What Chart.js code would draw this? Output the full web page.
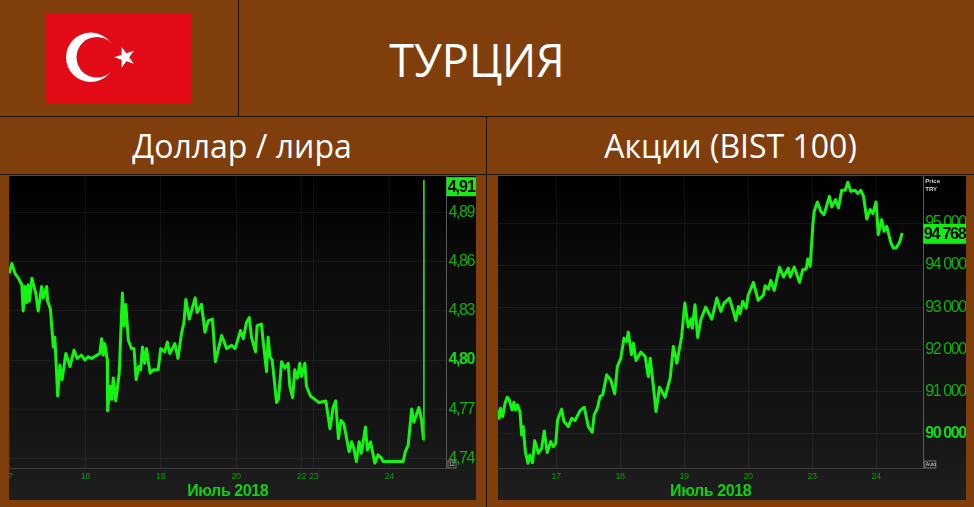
<!DOCTYPE html>
<html lang="ru">
<head>
<meta charset="utf-8">
<title>Турция</title>
<script src="https://cdn.jsdelivr.net/npm/chart.js@4"></script>
<style>
    html, body { margin: 0; padding: 0; }
    body { width: 974px; height: 507px; background: #813e0d; position: relative; overflow: hidden; font-family: "Open Sans", sans-serif; color: #fff; }
    .rule { position: absolute; background: #1c1208; }
    .title { position: absolute; text-align: center; white-space: nowrap; }
    .panel { position: absolute; top: 176px; height: 324px; background: linear-gradient(#000 0%, #0c0c0c 30%, #141414 75%, #1e1e1e 100%); }
    .panel canvas { display: block; }
    svg { position: absolute; left: 45px; top: 13px; }
</style>
</head>
<body>
<div class="rule" style="left:238px;top:0;width:1px;height:116px"></div>
<div class="rule" style="left:0;top:116px;width:974px;height:1px"></div>
<div class="rule" style="left:486px;top:116px;width:1px;height:391px"></div>
<div class="rule" style="left:0;top:174px;width:974px;height:1px"></div>

<svg width="147" height="91" viewBox="45 13 147 91">
    <rect x="45" y="13" width="147" height="91" fill="#e30a17"/>
    <circle cx="90.7" cy="57.3" r="24.7" fill="#fff"/>
    <circle cx="96.8" cy="57.3" r="20.3" fill="#e30a17"/>
    <polygon transform="translate(125 57.3)" fill="#fff" points="-11,0 -3.4,-2.47 -3.4,-10.46 1.3,-4 8.9,-6.47 4.2,0 8.9,6.47 1.3,4 -3.4,10.46 -3.4,2.47"/>
</svg>

<div class="title" style="left:239px;width:476px;top:30px;font-size:45px;line-height:60px">ТУРЦИЯ</div>
<div class="title" style="left:0;width:484px;top:123px;font-size:32px;line-height:46px">Доллар / лира</div>
<div class="title" style="left:487px;width:487px;top:123px;font-size:32px;line-height:46px">Акции (BIST 100)</div>

<div class="panel" style="left:9px;width:467px"><canvas id="lira" width="467" height="324"></canvas></div>
<div class="panel" style="left:498px;width:468px"><canvas id="bist" width="468" height="324"></canvas></div>

<script>
// --- Data, x in hours from the first labelled day ---
const liraHours = [-0.2, 0.6, 1.6, 2.7, 3.8, 4.2, 4.8, 5.3, 5.8, 6.2, 7.0, 8.3, 9.0, 10.1, 10.6, 11.7, 12.0, 12.9, 13.8, 14.3, 15.2, 15.9, 16.6, 17.8, 19.1, 20.4, 21.4, 22.8, 23.9, 24.9, 26.0, 28.6, 29.2, 29.7, 30.2, 31.0, 31.1, 31.8, 32.4, 32.9, 33.7, 34.8, 35.8, 36.3, 36.9, 37.7, 38.7, 39.5, 40.2, 41.0, 41.6, 42.2, 42.9, 43.5, 44.6, 45.6, 47.2, 48.0, 49.3, 50.1, 50.9, 52.5, 53.5, 54.6, 55.4, 56.0, 57.1, 58.1, 59.0, 59.6, 61.0, 62.1, 63.1, 64.5, 65.4, 66.3, 67.4, 69.0, 70.6, 71.7, 73.4, 74.3, 75.3, 76.2, 76.9, 78.2, 78.7, 80.1, 80.6, 81.7, 82.2, 82.8, 83.5, 84.9, 85.5, 86.5, 87.5, 88.6, 89.1, 90.0, 90.7, 91.5, 92.3, 92.8, 93.9, 94.4, 95.7, 98.4, 100.6, 101.9, 102.9, 103.7, 104.6, 105.4, 106.3, 108.0, 108.8, 109.5, 110.3, 111.2, 111.9, 113.2, 113.8, 114.8, 116.2, 117.2, 118.3, 118.8, 122.0, 125.2, 125.9, 126.8, 127.9, 128.6, 130.2, 131.0, 131.7, 131.8];
const liraValues = [4.853, 4.859, 4.853, 4.850, 4.846, 4.830, 4.845, 4.835, 4.846, 4.836, 4.850, 4.840, 4.830, 4.845, 4.838, 4.845, 4.836, 4.831, 4.808, 4.814, 4.778, 4.797, 4.788, 4.804, 4.796, 4.806, 4.801, 4.803, 4.800, 4.802, 4.801, 4.804, 4.813, 4.803, 4.810, 4.800, 4.769, 4.784, 4.776, 4.789, 4.775, 4.792, 4.841, 4.821, 4.834, 4.812, 4.807, 4.807, 4.788, 4.796, 4.794, 4.808, 4.798, 4.807, 4.792, 4.794, 4.794, 4.807, 4.805, 4.811, 4.804, 4.810, 4.801, 4.816, 4.823, 4.837, 4.825, 4.832, 4.838, 4.829, 4.834, 4.817, 4.824, 4.825, 4.799, 4.806, 4.815, 4.807, 4.809, 4.807, 4.818, 4.813, 4.823, 4.826, 4.814, 4.805, 4.821, 4.822, 4.812, 4.793, 4.814, 4.802, 4.800, 4.774, 4.776, 4.799, 4.795, 4.798, 4.784, 4.777, 4.794, 4.789, 4.798, 4.790, 4.798, 4.784, 4.778, 4.774, 4.775, 4.758, 4.771, 4.775, 4.752, 4.763, 4.761, 4.744, 4.750, 4.746, 4.738, 4.750, 4.743, 4.759, 4.745, 4.750, 4.737, 4.742, 4.740, 4.738, 4.738, 4.738, 4.744, 4.748, 4.770, 4.762, 4.771, 4.764, 4.751, 4.910];
const liraYTicks = [4.74, 4.77, 4.80, 4.83, 4.86, 4.89];
const liraXTicks = [0, 24, 48, 72, 92.8, 96.7, 120.8];
const liraXLabels = ['7', '18', '19', '20', '22', '23', '24'];

const bistHours = [-21.8, -21.3, -20.8, -20, -19.1, -18.3, -17.5, -16.5, -15.8, -15.2, -14.5, -13.5, -12.9, -12.3, -11.5, -10.5, -9.8, -8.8, -8, -6.6, -5.4, -4.4, -3.3, -2, -1, -0.1, 0.6, 2.1, 3, 4.6, 5.9, 7.1, 9, 10.6, 12.1, 13.6, 14.3, 15.5, 16.5, 17.5, 19, 20.5, 22, 23, 24.3, 25.5, 26.5, 27.1, 28.3, 29, 30, 31.8, 33.4, 34.6, 35.3, 36.5, 37.5, 38.8, 40.9, 42.8, 44, 45.3, 47.1, 48.3, 49.6, 50.6, 51.1, 52.1, 53.1, 54.3, 56.1, 58.4, 60.3, 61.8, 63, 65, 66.5, 67.4, 68.4, 69, 70, 71.3, 72.1, 74, 75.8, 77.8, 78.4, 79.6, 80.5, 81.8, 83.8, 85.3, 87.1, 87.8, 89.3, 91.3, 92.5, 93.8, 94.4, 95.3, 96.3, 96.8, 98, 99.3, 100.5, 102.5, 103.4, 104.8, 105.9, 107.1, 108.4, 109.4, 110.5, 112.1, 113.1, 114.3, 115.3, 116.5, 117.8, 118.8, 120, 120.8, 122.1, 123, 124, 125.5, 126.5, 127.5, 128.8, 129.8];
const bistValues = [90556, 90357, 90596, 90397, 90715, 90858, 90794, 90556, 90738, 90556, 90675, 90516, 89960, 90159, 89563, 89285, 89484, 89301, 89825, 89524, 89643, 90056, 89540, 89802, 89682, 89762, 90318, 90572, 90278, 90159, 90357, 90302, 90540, 90619, 90159, 90024, 90437, 90596, 90873, 90913, 91390, 91270, 90937, 91588, 91787, 92263, 92184, 92406, 91866, 92144, 91731, 91929, 91826, 91350, 91787, 91112, 90516, 91096, 90858, 91310, 92064, 91667, 92303, 93097, 92525, 92715, 92501, 93057, 92279, 92700, 93001, 92715, 93216, 92898, 93097, 93216, 92898, 92684, 93017, 92843, 93136, 92977, 93295, 93589, 93160, 93295, 93509, 93430, 93637, 93398, 93946, 93716, 93930, 93716, 93954, 93589, 93891, 93906, 94145, 93970, 94962, 95280, 95502, 95280, 95199, 95637, 95383, 95558, 95360, 95780, 95780, 95971, 95756, 95780, 95701, 95780, 95637, 95097, 95320, 95225, 95502, 94724, 95082, 94804, 94923, 94542, 94406, 94406, 94542, 94764];
const bistYTicks = [90000, 91000, 92000, 93000, 94000, 95000];
const bistXTicks = [0, 24, 48, 72, 96, 120];
const bistXLabels = ['17', '18', '19', '20', '23', '24'];

const axisTitle = 'Июль 2018';
const lineColor = '#14f514';
const tickColor = '#10b010';
const tickFont = '"Liberation Sans", sans-serif';

// Green price badge + small marks on the price axis.
// Labels in the original are a narrow face, so letter spacing is tightened per layer:
// x labels and title draw before the datasets, y labels (z: 1) after them.
const priceBadge = {
    id: 'priceBadge',
    beforeDraw(chart) {
        chart.ctx.letterSpacing = '-0.4px';
    },
    afterDatasetsDraw(chart) {
        chart.ctx.letterSpacing = '-1.4px';
    },
    afterDraw(chart, args, opts) {
        const c = chart.ctx, y = chart.scales.y, top = y.getPixelForValue(opts.value) - opts.height / 2 + opts.shift;
        c.save();
        c.fillStyle = '#12ee12';
        c.fillRect(y.left, top, y.width, opts.height);
        c.fillStyle = '#000';
        c.font = 'bold ' + opts.size + 'px ' + tickFont;
        c.letterSpacing = opts.spacing;
        c.textAlign = 'center';
        c.textBaseline = 'middle';
        c.fillText(opts.text, y.left + y.width / 2, top + opts.height / 2 + 1);

        c.letterSpacing = '0px';
        c.font = 'bold 6px ' + tickFont;
        c.textAlign = 'left';
        c.fillStyle = '#d8d8d8';
        (opts.notes || []).forEach((n, i) => c.fillText(n, y.left + 2, 5 + i * 8));
        c.strokeStyle = '#777';
        c.strokeRect(y.left + 1.5, chart.chartArea.bottom - 7, opts.boxWidth, 7);
        c.font = '5px ' + tickFont;
        c.fillText(opts.box, y.left + 2.5, chart.chartArea.bottom - 3.2);
        c.restore();
    }
};

function isBold(ctx, cfg) {
    return ctx.tick && ctx.tick.value === cfg.boldTick;
}

function makeChart(id, hours, values, yTicks, xTicks, xLabels, cfg) {
    return new Chart(document.getElementById(id).getContext('2d'), {
        type: 'line',
        data: {
            datasets: [{
                data: hours.map((h, i) => ({ x: h, y: values[i] })),
                borderColor: lineColor,
                borderWidth: 3,
                pointRadius: 0,
                tension: 0,
                borderJoinStyle: 'round',
                segment: {
                    // the last jump on the lira chart is a thin stroke
                    borderWidth: ctx => (Math.abs(ctx.p1.parsed.y - ctx.p0.parsed.y) > 0.1 && ctx.p1.parsed.y < 10 ? 1.8 : 3),
                    borderColor: ctx => (Math.abs(ctx.p1.parsed.y - ctx.p0.parsed.y) > 0.1 && ctx.p1.parsed.y < 10 ? '#1fd01f' : lineColor)
                }
            }]
        },
        options: {
            responsive: false,
            animation: false,
            events: [],
            layout: { padding: 0 },
            plugins: {
                legend: { display: false },
                tooltip: { enabled: false },
                priceBadge: cfg.badge
            },
            scales: {
                x: {
                    type: 'linear',
                    min: cfg.xMin,
                    max: cfg.xMax,
                    afterBuildTicks: axis => { axis.ticks = xTicks.map(v => ({ value: v })); },
                    afterFit: axis => {
                        axis.height = 32;
                        axis.paddingLeft = 0;
                        axis.paddingRight = 0;
                    },
                    border: { color: '#3c3c3c' },
                    grid: { color: 'rgba(255,255,255,0.055)', drawTicks: false },
                    ticks: {
                        autoSkip: false,
                        maxRotation: 0,
                        padding: 3,
                        color: '#0f9a0f',
                        font: { family: tickFont, size: 9 },
                        callback: (v, i) => xLabels[i]
                    },
                    title: {
                        display: true,
                        text: axisTitle,
                        color: '#10d010',
                        font: { family: tickFont, size: 16, weight: 'bold' },
                        padding: { top: 0, bottom: -1 }
                    }
                },
                y: {
                    position: 'right',
                    min: cfg.yMin,
                    max: cfg.yMax,
                    afterBuildTicks: axis => { axis.ticks = yTicks.map(v => ({ value: v })); },
                    afterFit: axis => {
                        axis.width = cfg.axisWidth;
                        axis.paddingTop = 0;
                        axis.paddingBottom = 0;
                    },
                    border: { color: '#5a5a5a' },
                    grid: { color: 'rgba(255,255,255,0.055)', drawTicks: false },
                    ticks: {
                        autoSkip: false,
                        z: 1,
                        padding: 2,
                        color: ctx => (isBold(ctx, cfg) ? '#10dc10' : tickColor),
                        font: ctx => ({
                            family: tickFont,
                            size: cfg.tickSize,
                            weight: isBold(ctx, cfg) ? 'bold' : 'normal'
                        }),
                        callback: cfg.format
                    }
                }
            }
        },
        plugins: [priceBadge]
    });
}

// Init Charts
makeChart('lira', liraHours, liraValues, liraYTicks, liraXTicks, liraXLabels, {
    xMin: -0.3, xMax: 139, yMin: 4.734, yMax: 4.9125,
    axisWidth: 29.5, tickSize: 16, boldTick: 4.80,
    format: v => v.toFixed(2).replace('.', ','),
    badge: { value: 4.906, shift: 0, text: '4,91', height: 19, size: 16, spacing: '-1px', box: '12', boxWidth: 8 }
});

makeChart('bist', bistHours, bistValues, bistYTicks, bistXTicks, bistXLabels, {
    xMin: -21.75, xMax: 137.7, yMin: 89174, yMax: 96119,
    axisWidth: 42.7, tickSize: 16, boldTick: 90000,
    format: v => String(v).replace(/(\d{2})(\d{3})/, '$1 $2'),
    badge: { value: 94768, shift: 1, text: '94 768', height: 20, size: 16, spacing: '-1.2px', box: 'Auto', boxWidth: 11, notes: ['Price', 'TRY'] }
});
</script>
</body>
</html>
